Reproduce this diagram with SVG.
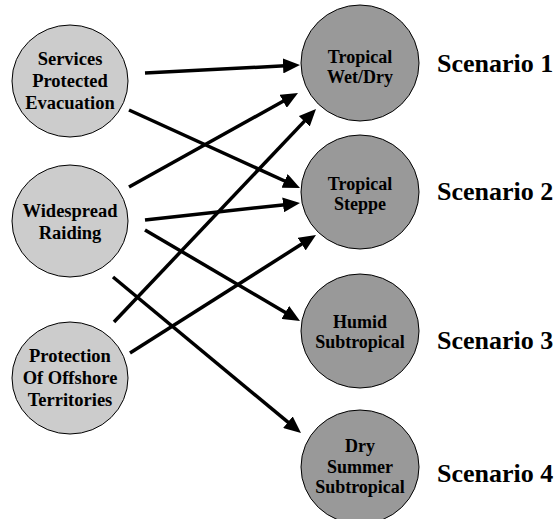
<svg xmlns="http://www.w3.org/2000/svg" width="558" height="519" viewBox="0 0 558 519">
<style>
.src{fill:#cccccc;stroke:#000;stroke-width:1}
.dst{fill:#999999;stroke:#000;stroke-width:1}
.lt{font-family:"Liberation Serif","Times New Roman",serif;font-weight:bold;font-size:18.5px;text-anchor:middle;fill:#000}
.rt{font-family:"Liberation Serif","Times New Roman",serif;font-weight:bold;font-size:18px;text-anchor:middle;fill:#000}
.sc{font-family:"Liberation Serif","Times New Roman",serif;font-weight:bold;font-size:26px;fill:#000}
.edge{stroke:#000;stroke-width:3.5;fill:none;marker-end:url(#ah)}
</style>
<defs>
<marker id="ah" markerUnits="userSpaceOnUse" markerWidth="17" markerHeight="15" refX="2" refY="7.5" orient="auto">
<path d="M0,0 L17,7.5 L0,15 z" fill="#000"/>
</marker>
</defs>
<rect width="558" height="519" fill="#fff"/>
<g id="n-services">
<ellipse class="src" cx="70" cy="81" rx="58" ry="56"/>
<text class="lt" x="70" y="65">Services</text>
<text class="lt" x="70" y="87">Protected</text>
<text class="lt" x="70" y="109">Evacuation</text>
</g>
<g id="n-widespread">
<ellipse class="src" cx="70" cy="221" rx="58" ry="56"/>
<text class="lt" x="70" y="217">Widespread</text>
<text class="lt" x="70" y="239">Raiding</text>
</g>
<g id="n-protection">
<ellipse class="src" cx="70" cy="378" rx="58" ry="56"/>
<text class="lt" x="70" y="362">Protection</text>
<text class="lt" x="70" y="384">Of Offshore</text>
<text class="lt" x="70" y="406">Territories</text>
</g>
<g id="n-wetdry">
<ellipse class="dst" cx="360" cy="63" rx="59" ry="58"/>
<text class="rt" x="360" y="63">Tropical</text>
<text class="rt" x="360" y="83">Wet/Dry</text>
</g>
<g id="n-steppe">
<ellipse class="dst" cx="360" cy="192" rx="59" ry="57"/>
<text class="rt" x="360" y="190">Tropical</text>
<text class="rt" x="360" y="210">Steppe</text>
</g>
<g id="n-humid">
<ellipse class="dst" cx="360" cy="331" rx="59" ry="57"/>
<text class="rt" x="360" y="328">Humid</text>
<text class="rt" x="360" y="348">Subtropical</text>
</g>
<g id="n-drysummer">
<ellipse class="dst" cx="360" cy="467" rx="59" ry="57"/>
<text class="rt" x="360" y="452">Dry</text>
<text class="rt" x="360" y="473">Summer</text>
<text class="rt" x="360" y="493">Subtropical</text>
</g>
<g id="labels">
<text class="sc" x="437" y="72">Scenario 1</text>
<text class="sc" x="437" y="200">Scenario 2</text>
<text class="sc" x="437" y="349">Scenario 3</text>
<text class="sc" x="437" y="482">Scenario 4</text>
</g>
<g id="connectors">
<line class="edge" x1="145" y1="73" x2="285.0" y2="65.8"/>
<line class="edge" x1="129" y1="110" x2="286.35" y2="181.77"/>
<line class="edge" x1="129" y1="187" x2="284.89" y2="100.29"/>
<line class="edge" x1="145" y1="220" x2="285.09" y2="204.64"/>
<line class="edge" x1="145" y1="230" x2="287.06" y2="313.41"/>
<line class="edge" x1="114" y1="322" x2="305.68" y2="119.88"/>
<line class="edge" x1="130" y1="353" x2="303.33" y2="243.04"/>
<line class="edge" x1="113" y1="277" x2="289.46" y2="423.42"/>
</g>
</svg>
